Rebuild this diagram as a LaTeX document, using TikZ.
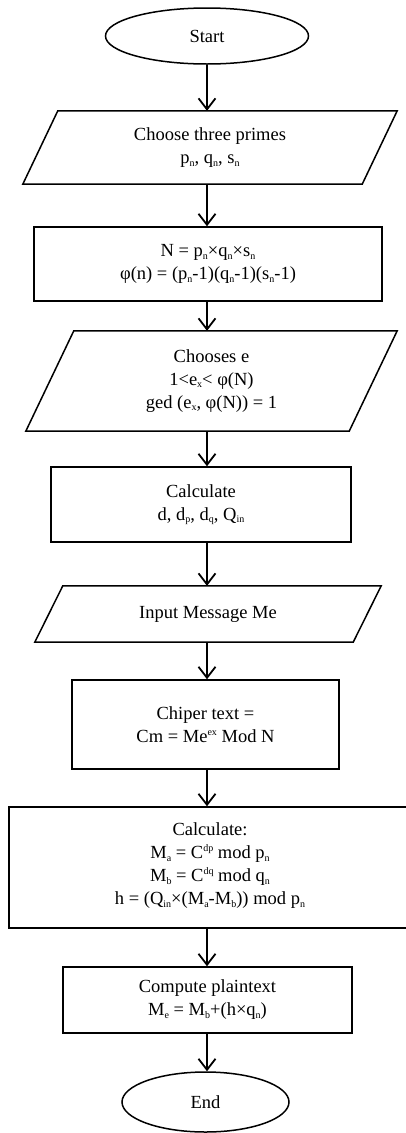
\documentclass[tikz,border=0pt]{standalone}
\usepackage{fontspec}
\setmainfont{Liberation Serif}
\usetikzlibrary{shapes.geometric,arrows.meta}
\newcommand\lo[1]{\raisebox{-0.3ex}{\fontsize{10}{10}\selectfont #1}}
\newcommand\hi[1]{\raisebox{0.85ex}{\fontsize{10}{10}\selectfont #1}}
\begin{document}
\begin{tikzpicture}[x=1pt,y=-1pt,
  every node/.style={font=\fontsize{18.5}{23}\selectfont, align=center, inner sep=0pt},
  term/.style={ellipse, draw, line width=1.5pt},
  procbox/.style={rectangle, draw, line width=1.5pt},
  iobox/.style={rectangle},
  paraline/.style={line width=1.5pt},
  arr/.style={line width=1.8pt, -{Straight Barb[length=11pt,width=17pt,line width=1.8pt]}}
]
\useasboundingbox (0,0) rectangle (406,1133);
\node[term, minimum width=203pt, minimum height=56pt] (start) at (207,36) {Start};
\node[iobox, minimum width=374pt, minimum height=73pt] (p1) at (210,147.5) {Choose three primes\\ p\lo{n}, q\lo{n}, s\lo{n}};
\node[procbox, minimum width=348pt, minimum height=74pt] (r1) at (208,264) {N = p\lo{n}×q\lo{n}×s\lo{n}\\ φ(n) = (p\lo{n}-1)(q\lo{n}-1)(s\lo{n}-1)};
\node[iobox, minimum width=371pt, minimum height=100pt] (p2) at (211.5,381) {Chooses e\\ 1<e\lo{x}< φ(N)\\ ged (e\lo{x}, φ(N)) = 1};
\node[procbox, minimum width=300pt, minimum height=75pt] (r2) at (201,504.5) {Calculate\\ d, d\lo{p}, d\lo{q}, Q\lo{in}};
\node[iobox, minimum width=346pt, minimum height=56pt] (p3) at (208,614) {Input Message Me};
\node[procbox, minimum width=267pt, minimum height=89pt] (r3) at (205.5,724.5) {Chiper text =\\ Cm = Me\hi{ex} Mod N};
\node[procbox, minimum width=402pt, minimum height=121pt] (r4) at (210,867.5) {};
\node (r4t) at (210,866) {Calculate:\\ M\lo{a} = C\hi{dp} mod p\lo{n}\\ M\lo{b} = C\hi{dq} mod q\lo{n}\\ h = (Q\lo{in}×(M\lo{a}-M\lo{b})) mod p\lo{n}};
\node[procbox, minimum width=289pt, minimum height=66pt] (r5) at (207.5,1000) {Compute plaintext\\ M\lo{e} = M\lo{b}+(h×q\lo{n})};
\node[term, minimum width=167pt, minimum height=60pt] (end) at (205.5,1102) {End};
% parallelograms
\draw[paraline] ([xshift=35pt]p1.north west) -- (p1.north east) -- ([xshift=-35pt]p1.south east) -- (p1.south west) -- cycle;
\draw[paraline] ([xshift=48pt]p2.north west) -- (p2.north east) -- ([xshift=-48pt]p2.south east) -- (p2.south west) -- cycle;
\draw[paraline] ([xshift=28pt]p3.north west) -- (p3.north east) -- ([xshift=-28pt]p3.south east) -- (p3.south west) -- cycle;
% connectors
\draw[arr] (start.south) -- (p1.north -| start);
\draw[arr] (p1.south -| start) -- (r1.north -| start);
\draw[arr] (r1.south -| start) -- (p2.north -| start);
\draw[arr] (p2.south -| start) -- (r2.north -| start);
\draw[arr] (r2.south -| start) -- (p3.north -| start);
\draw[arr] (p3.south -| start) -- (r3.north -| start);
\draw[arr] (r3.south -| start) -- (r4.north -| start);
\draw[arr] (r4.south -| start) -- (r5.north -| start);
\draw[arr] (r5.south -| start) -- (end.north -| start);
\end{tikzpicture}
\end{document}
